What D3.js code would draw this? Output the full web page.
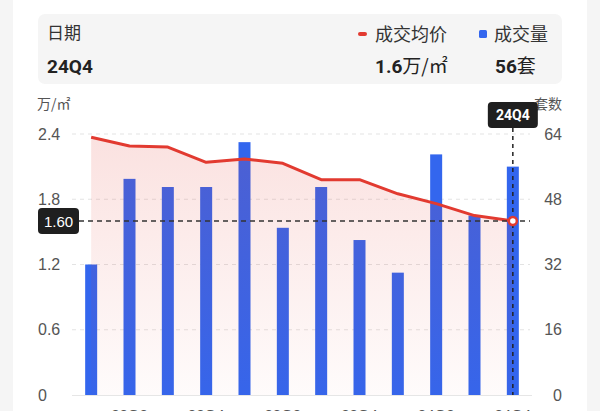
<!DOCTYPE html>
<html>
<head>
<meta charset="utf-8">
<script src="https://cdn.jsdelivr.net/npm/d3@7"></script>
<style>
  body { margin: 0; background: #f5f5f5; }
  svg { display: block; font-family: "Noto Sans CJK SC", "Noto Sans", sans-serif; }
</style>
</head>
<body>
<svg id="chart"></svg>
<script>
var quarters = ["22Q1","22Q2","22Q3","22Q4","23Q1","23Q2","23Q3","23Q4","24Q1","24Q2","24Q3","24Q4"];
var price = [2.37, 2.29, 2.28, 2.14, 2.17, 2.13, 1.98, 1.98, 1.85, 1.76, 1.65, 1.60];
var volume = [32, 53, 51, 51, 62, 41, 51, 38, 30, 59, 44, 56];
var priceTicks = [0, 0.6, 1.2, 1.8, 2.4];
var volumeTicks = [0, 16, 32, 48, 64];
var xLabels = ["22Q2","22Q4","23Q2","23Q4","24Q2","24Q4"];

var width = 600, height = 411;
var red = "#e23a30", blue = "#3366ee";

var svg = d3.select("#chart").attr("width", width).attr("height", height);

// white panel
svg.append("rect").attr("x", 13).attr("y", 0).attr("width", 574).attr("height", height).attr("fill", "#fff");

// header card
svg.append("rect").attr("x", 38).attr("y", 14).attr("width", 524).attr("height", 70)
  .attr("rx", 7).attr("fill", "#f5f5f5");

var last = quarters.length - 1;

svg.append("text").attr("x", 47).attr("y", 39).attr("font-size", 17).attr("fill", "#333").text("日期");
svg.append("text").attr("x", 47).attr("y", 73).attr("font-size", 19).attr("font-weight", "bold")
  .attr("fill", "#222").attr("font-family", "Roboto, sans-serif").text(quarters[last]);

svg.append("rect").attr("x", 358).attr("y", 32).attr("width", 9).attr("height", 4).attr("rx", 2).attr("fill", red);
svg.append("text").attr("x", 375).attr("y", 41).attr("font-size", 18).attr("fill", "#333").text("成交均价");
svg.append("rect").attr("x", 479).attr("y", 30).attr("width", 8).attr("height", 8).attr("rx", 1.5).attr("fill", blue);
svg.append("text").attr("x", 494).attr("y", 41).attr("font-size", 18).attr("fill", "#333").text("成交量");

var v1 = svg.append("text").attr("x", 375).attr("y", 73).attr("font-size", 19).attr("fill", "#222");
v1.append("tspan").attr("font-weight", "bold").attr("font-family", "Roboto, sans-serif").text(d3.format(".1f")(price[last]));
v1.append("tspan").attr("font-weight", "normal").text("万/㎡");
var v2 = svg.append("text").attr("x", 495).attr("y", 73).attr("font-size", 19).attr("fill", "#222");
v2.append("tspan").attr("font-weight", "bold").attr("font-family", "Roboto, sans-serif").text(volume[last]);
v2.append("tspan").attr("font-weight", "normal").text("套");

// scales
var x = d3.scaleBand().domain(quarters).range([72, 532]).paddingInner(0.687).paddingOuter(0.3435);
var cx = function(d) { return x(d) + x.bandwidth() / 2; };
var yL = d3.scaleLinear().domain([0, 2.4]).range([395, 134]);
var yR = d3.scaleLinear().domain([0, 64]).range([395, 134]);

// axis units
svg.append("text").attr("x", 37).attr("y", 109).attr("font-size", 14).attr("fill", "#555").text("万/㎡");
svg.append("text").attr("x", 562).attr("y", 109).attr("font-size", 14).attr("fill", "#555")
  .attr("text-anchor", "end").text("套数");

// grid
svg.append("g").selectAll("line").data(priceTicks.filter(function(d) { return d > 0; })).enter().append("line")
  .attr("x1", 72).attr("x2", 530).attr("y1", function(d) { return yL(d); }).attr("y2", function(d) { return yL(d); })
  .attr("stroke", "#e3e3e3").attr("stroke-dasharray", "4,4");
svg.append("line").attr("x1", 72).attr("x2", 532).attr("y1", yL(0) + 0.5).attr("y2", yL(0) + 0.5).attr("stroke", "#e6e6e6");

// axes
var axL = svg.append("g").attr("transform", "translate(38,0)")
  .call(d3.axisLeft(yL).tickValues(priceTicks).tickSize(0).tickPadding(0).tickFormat(function(d) { return d === 0 ? "0" : d3.format(".1f")(d); }));
var axR = svg.append("g").attr("transform", "translate(562,0)")
  .call(d3.axisRight(yR).tickValues(volumeTicks).tickSize(0).tickPadding(0));
var axX = svg.append("g").attr("transform", "translate(0,405)")
  .call(d3.axisBottom(x).tickValues(xLabels).tickSize(0).tickPadding(0));
[axL, axR, axX].forEach(function(a) {
  a.select(".domain").remove();
  a.selectAll("text").attr("font-size", 16).attr("fill", "#555")
    .attr("font-family", "'Liberation Sans', 'Noto Sans', sans-serif");
});
axL.selectAll("text").attr("text-anchor", "start");
axR.selectAll("text").attr("text-anchor", "end");
axX.selectAll("text").attr("dy", "1em").attr("font-size", 15);

// bars
svg.append("g").selectAll("rect").data(volume).enter().append("rect")
  .attr("x", function(d, i) { return x(quarters[i]); })
  .attr("y", function(d) { return yR(d); })
  .attr("width", x.bandwidth())
  .attr("height", function(d) { return yR(0) - yR(d); })
  .attr("fill", blue);

// area gradient
var grad = svg.append("defs").append("linearGradient").attr("id", "ag")
  .attr("x1", 0).attr("y1", 0).attr("x2", 0).attr("y2", 1);
grad.append("stop").attr("offset", "0%").attr("stop-color", red).attr("stop-opacity", 0.15);
grad.append("stop").attr("offset", "100%").attr("stop-color", red).attr("stop-opacity", 0.02);

var area = d3.area().x(function(d, i) { return cx(quarters[i]); })
  .y0(yL(0)).y1(function(d) { return yL(d); });
svg.append("path").datum(price).attr("d", area).attr("fill", "url(#ag)");

var line = d3.line().x(function(d, i) { return cx(quarters[i]); })
  .y(function(d) { return yL(d); });
svg.append("path").datum(price).attr("d", line).attr("fill", "none")
  .attr("stroke", red).attr("stroke-width", 3).attr("stroke-linejoin", "round");

// crosshair
var px = cx(quarters[last]), py = yL(price[last]);
svg.append("line").attr("x1", 79).attr("x2", 530).attr("y1", py).attr("y2", py)
  .attr("stroke", "#333").attr("stroke-width", 1.5).attr("stroke-dasharray", "5,4");
svg.append("line").attr("x1", px).attr("x2", px).attr("y1", 128).attr("y2", yL(0))
  .attr("stroke", "#222").attr("stroke-width", 1.5).attr("stroke-dasharray", "4,4");
svg.append("circle").attr("cx", px).attr("cy", py).attr("r", 4)
  .attr("fill", "#fff").attr("stroke", red).attr("stroke-width", 2.5);

svg.append("rect").attr("x", 38).attr("y", py - 13).attr("width", 41).attr("height", 26).attr("rx", 4).attr("fill", "#1f1f1f");
svg.append("text").attr("x", 58.5).attr("y", py + 5.5).attr("text-anchor", "middle").attr("font-size", 15)
  .attr("fill", "#fff").attr("font-family", "'Liberation Sans', sans-serif").text(d3.format(".2f")(price[last]));

svg.append("rect").attr("x", px - 25).attr("y", 102).attr("width", 50).attr("height", 26).attr("rx", 4).attr("fill", "#1f1f1f");
svg.append("text").attr("x", px).attr("y", 120).attr("text-anchor", "middle").attr("font-size", 14)
  .attr("font-weight", "bold").attr("fill", "#fff").attr("font-family", "Roboto, sans-serif").text(quarters[last]);
</script>
</body>
</html>
